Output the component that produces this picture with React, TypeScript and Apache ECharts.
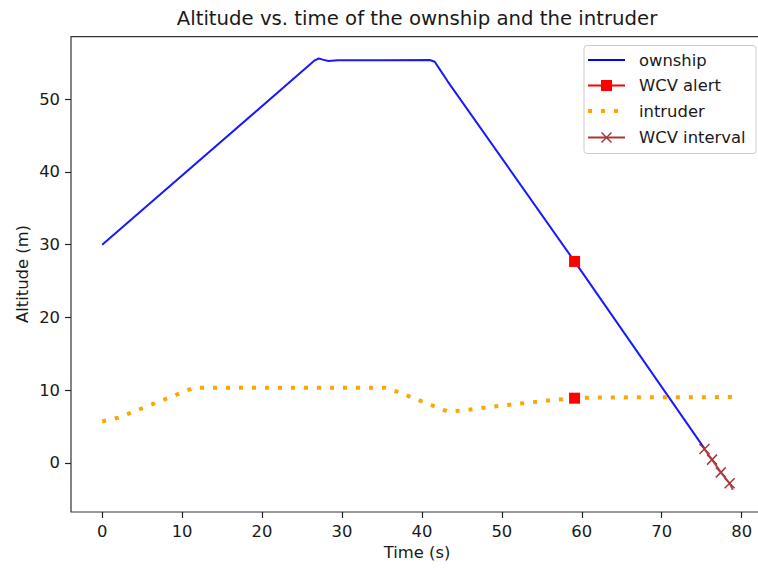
import React, { useEffect, useRef } from "react";
import * as echarts from "echarts";

const chartTitle = "Altitude vs. time of the ownship and the intruder";
const xName = "Time (s)";
const yName = "Altitude (m)";
const xTicks = [0, 10, 20, 30, 40, 50, 60, 70, 80];
const yTicks = [0, 10, 20, 30, 40, 50];

const ownship = [
  [0, 30], [26.6, 55.35], [27.1, 55.6], [27.6, 55.45], [28.3, 55.25], [29.5, 55.35],
  [35, 55.35], [41.0, 55.4], [41.6, 55.15], [42.3, 54.0], [43.2, 52.5], [59.1, 27.7], [75.4, 1.9],
];
const intruder = [
  [0, 5.7], [2, 6.2], [11.5, 10.35], [35.3, 10.35], [36.5, 9.95], [43.3, 7.05], [44.9, 7.2],
  [48.4, 7.66], [51.8, 8.1], [55.5, 8.55], [59.1, 8.9], [62, 9.0], [78.8, 9.05],
];
const wcvAlert = [[59.1, 27.7], [59.1, 8.9]];
const wcvInterval = [[75.35, 1.9], [76.3, 0.45], [77.4, -1.3], [78.5, -2.8], [78.9, -3.7]];

const legendNames = ["ownship", "WCV alert", "intruder", "WCV interval"];

const BLUE = "#0000ff";
const RED = "#ff0000";
const ORANGE = "#ffa500";
const BROWN = "#a83838";
const FONT = "DejaVu Sans";
const TXT = "#1a1a1a";

const xMark = "path://M0,0L10,10M10,0L0,10";

export default function App() {
  const ref = useRef<HTMLDivElement>(null);
  useEffect(() => {
    if (!ref.current) return;
    const chart = echarts.init(ref.current, null, { renderer: "svg" });
    const gl = 71, gt = 36.7, gw = 693, gh = 475.3;
    const lx = 588, lx2 = 625, tx = 639;
    const ly = [60, 85.5, 111, 137.5];
    const graphics: any[] = [
      {
        type: "text", x: 417, y: 18,
        style: { text: chartTitle, font: `19.7px '${FONT}'`, fill: TXT, textAlign: "center", textVerticalAlign: "middle" },
      },
      {
        type: "text", x: 417, y: 552,
        style: { text: xName, font: `16.4px '${FONT}'`, fill: TXT, textAlign: "center", textVerticalAlign: "middle" },
      },
      {
        type: "text", x: 22, y: 274, rotation: Math.PI / 2,
        style: { text: yName, font: `16.4px '${FONT}'`, fill: TXT, textAlign: "center", textVerticalAlign: "middle" },
      },
      {
        type: "rect", shape: { x: 584, y: 45.5, width: 172, height: 108, r: 3 },
        style: { fill: "rgba(255,255,255,0.8)", stroke: "#cccccc", lineWidth: 1 }, z: 100,
      },
      { type: "line", shape: { x1: lx, y1: ly[0], x2: lx2, y2: ly[0] }, style: { stroke: BLUE, lineWidth: 2 }, z: 101 },
      { type: "line", shape: { x1: lx, y1: ly[1], x2: lx2, y2: ly[1] }, style: { stroke: RED, lineWidth: 2 }, z: 101 },
      { type: "rect", shape: { x: 601, y: ly[1] - 5.5, width: 11, height: 11 }, style: { fill: RED }, z: 102 },
      { type: "line", shape: { x1: lx, y1: ly[2], x2: lx2, y2: ly[2] }, style: { stroke: ORANGE, lineWidth: 4, lineDash: [4, 9] }, z: 101 },
      { type: "line", shape: { x1: lx, y1: ly[3], x2: lx2, y2: ly[3] }, style: { stroke: BROWN, lineWidth: 2 }, z: 101 },
      { type: "line", shape: { x1: 601.5, y1: ly[3] - 5, x2: 611.5, y2: ly[3] + 5 }, style: { stroke: BROWN, lineWidth: 1.5 }, z: 102 },
      { type: "line", shape: { x1: 611.5, y1: ly[3] - 5, x2: 601.5, y2: ly[3] + 5 }, style: { stroke: BROWN, lineWidth: 1.5 }, z: 102 },
    ];
    legendNames.forEach((n, i) => {
      graphics.push({
        type: "text", x: tx, y: ly[i], z: 102,
        style: { text: n, font: `16.4px '${FONT}'`, fill: TXT, textAlign: "left", textVerticalAlign: "middle" },
      });
    });

    const tickStyle = { show: true, length: 6, lineStyle: { color: "#222", width: 1.2 } };

    chart.setOption({
      animation: false,
      backgroundColor: "#ffffff",
      grid: {
        left: gl, top: gt, width: gw, height: gh, show: true,
        borderColor: "#333", borderWidth: 1.2, backgroundColor: "transparent",
      },
      xAxis: {
        type: "value",
        min: -3.9, max: 82.8,
        axisLine: { show: false, onZero: false },
        splitLine: { show: false },
        axisTick: { ...tickStyle, customValues: xTicks },
        axisLabel: { customValues: xTicks, margin: 11, fontFamily: FONT, fontSize: 16.4, color: TXT },
      },
      yAxis: {
        type: "value",
        min: -6.75, max: 58.6,
        axisLine: { show: false, onZero: false },
        splitLine: { show: false },
        axisTick: { ...tickStyle, customValues: yTicks },
        axisLabel: { customValues: yTicks, margin: 11, fontFamily: FONT, fontSize: 16.4, color: TXT },
      },
      series: [
        {
          name: "ownship", type: "line", data: ownship, showSymbol: false, symbol: "none",
          lineStyle: { color: BLUE, width: 2, opacity: 0.9 }, z: 2,
        },
        {
          name: "intruder", type: "line", data: intruder, symbol: "none",
          lineStyle: { color: ORANGE, width: 4, type: [4, 9], cap: "butt" }, z: 2,
        },
        {
          name: "WCV interval", type: "line",
          data: wcvInterval.map((p, i) => (i === wcvInterval.length - 1 ? { value: p, symbol: "none" } : p)),
          symbol: xMark, symbolSize: 10, showSymbol: true,
          itemStyle: { color: "rgba(0,0,0,0)", borderColor: BROWN, borderWidth: 1.5 },
          lineStyle: { color: BROWN, width: 2, opacity: 0.9 }, z: 3,
        },
        {
          name: "WCV alert", type: "scatter", data: wcvAlert, symbol: "rect", symbolSize: 11,
          itemStyle: { color: RED, opacity: 1 }, z: 4,
        },
      ],
      graphic: graphics,
    });
    return () => chart.dispose();
  }, []);
  return (
    <div style={{ position: "fixed", left: 0, top: 0, width: 758, height: 568, overflow: "hidden", background: "#fff" }}>
      <div ref={ref} style={{ width: 790, height: 568 }} />
    </div>
  );
}
